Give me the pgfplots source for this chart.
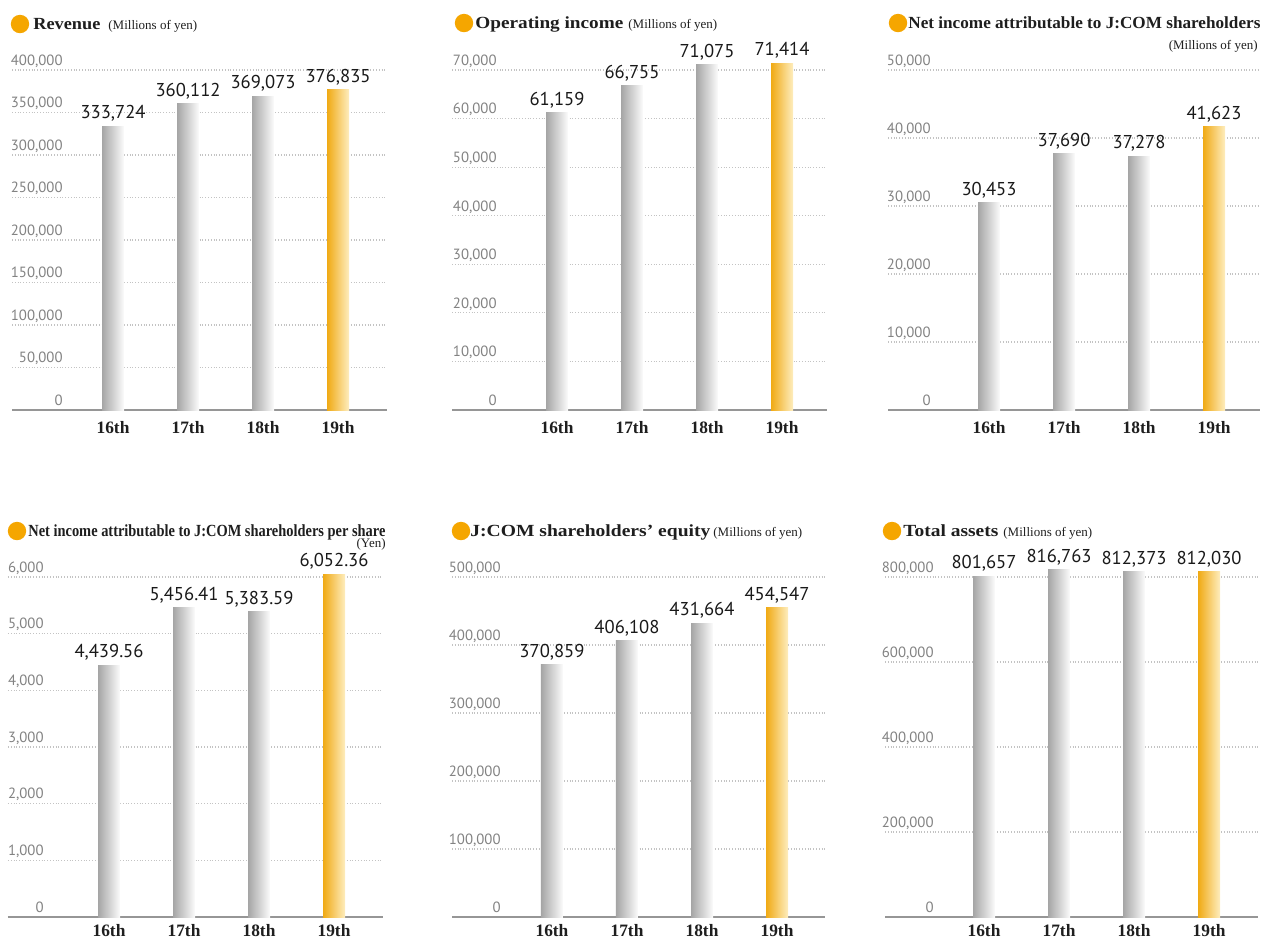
\documentclass[border=0pt]{standalone}
\usepackage{fontspec}
\setmainfont{Liberation Serif}
\newfontfamily\numfont{PT Sans}
\usepackage{graphicx}
\usepackage{pgfplots}
\pgfplotsset{compat=1.18}

\definecolor{bulletorange}{RGB}{245,166,0}
\definecolor{barL}{RGB}{165,165,165}
\definecolor{barM}{RGB}{228,228,228}
\definecolor{barR}{RGB}{252,252,252}
\definecolor{hiL}{RGB}{240,170,20}
\definecolor{hiM}{RGB}{249,206,105}
\definecolor{hiR}{RGB}{254,237,190}
\definecolor{ticktext}{RGB}{130,130,130}
\definecolor{gridgray}{RGB}{195,195,195}
\definecolor{basegray}{RGB}{150,150,150}
\definecolor{titletext}{RGB}{30,30,30}

\pgfplotsset{
  panel/.style={
    scale only axis,
    height=170pt,
    anchor=south west,
    ybar,
    ymin=0,
    axis lines=left,
    axis line style={-},
    y axis line style={draw=none},
    x axis line style={basegray, line width=0.9pt},
    major tick length=0pt,
    xtick={0,1,2,3},
    xticklabels={16th,17th,18th,19th},
    xticklabel style={font=\fontsize{8.7}{9}\selectfont\bfseries, text=titletext,
      anchor=north, inner sep=0pt, yshift=-5.5pt},
    scaled y ticks=false,
    /pgf/number format/fixed,
    /pgf/number format/precision=0,
    /pgf/number format/1000 sep={,},
    /pgf/number format/assume math mode=true,
    yticklabel={\pgfmathprintnumber[fixed,precision=0]{\tick}},
    yticklabel style={font=\numfont\fontsize{7.4}{8}\selectfont, text=ticktext,
      anchor=base east, inner sep=0pt, yshift=2.35pt},
    ymajorgrids,
    grid style={gridgray, densely dotted, line width=0.6pt},
    clip=false,
    bar width=11pt,
    nodes near coords={\pgfmathprintnumber[fixed,precision=0]{\pgfplotspointmeta}},
    every node near coord/.append style={font=\numfont\fontsize{9.3}{10}\selectfont,
      text=black!90, inner sep=0pt, yshift=2.2pt},
  },
  lowrow/.style={xticklabel style={yshift=2pt}},
  greybar/.style={bar shift=0pt, draw=none, left color=barL, middle color=barM, right color=barR},
  goldbar/.style={bar shift=0pt, draw=none, left color=hiL, middle color=hiM, right color=hiR},
}

\newcommand{\subunit}{\fontsize{6.5}{7}\selectfont}

\begin{document}
\begin{tikzpicture}
\path[use as bounding box] (0pt,0pt) rectangle (632pt,-469.5pt);

% Revenue
\begin{axis}[panel, at={(6pt,-205pt)}, width=187.5pt,
  xmin=-1.347, xmax=3.653, ymax=400000,
  ytick={0,50000,100000,150000,200000,250000,300000,350000,400000},
  yticklabel style={xshift=25.5pt}]
\addplot[greybar] coordinates {(0,333724)};
\addplot[greybar] coordinates {(1,360112)};
\addplot[greybar] coordinates {(2,369073)};
\addplot[goldbar] coordinates {(3,376835)};
\end{axis}

% Operating income
\begin{axis}[panel, at={(226pt,-205pt)}, width=187.5pt,
  xmin=-1.4, xmax=3.6, ymax=70000,
  ytick={0,10000,20000,30000,40000,50000,60000,70000},
  yticklabel style={xshift=22.5pt}]
\addplot[greybar] coordinates {(0,61159)};
\addplot[greybar] coordinates {(1,66755)};
\addplot[greybar] coordinates {(2,71075)};
\addplot[goldbar] coordinates {(3,71414)};
\end{axis}

% Net income attributable to J:COM shareholders
\begin{axis}[panel, at={(444pt,-205pt)}, width=186pt,
  xmin=-1.347, xmax=3.613, ymax=50000,
  ytick={0,10000,20000,30000,40000,50000},
  yticklabel style={xshift=21.5pt}]
\addplot[greybar] coordinates {(0,30453)};
\addplot[greybar] coordinates {(1,37690)};
\addplot[greybar] coordinates {(2,37278)};
\addplot[goldbar] coordinates {(3,41623)};
\end{axis}

% Net income per share
\begin{axis}[panel, lowrow, at={(4pt,-458.5pt)}, width=187.5pt,
  xmin=-1.347, xmax=3.653, ymax=6000,
  ytick={0,1000,2000,3000,4000,5000,6000},
  yticklabel style={xshift=18pt},
  nodes near coords={\pgfmathprintnumber[fixed,fixed zerofill,precision=2]{\pgfplotspointmeta}}]
\addplot[greybar] coordinates {(0,4439.56)};
\addplot[greybar] coordinates {(1,5456.41)};
\addplot[greybar] coordinates {(2,5383.59)};
\addplot[goldbar] coordinates {(3,6052.36)};
\end{axis}

% Shareholders' equity
\begin{axis}[panel, lowrow, at={(226pt,-458.5pt)}, width=186.5pt,
  xmin=-1.333, xmax=3.64, ymax=500000,
  ytick={0,100000,200000,300000,400000,500000},
  yticklabel style={xshift=24.5pt}]
\addplot[greybar] coordinates {(0,370859)};
\addplot[greybar] coordinates {(1,406108)};
\addplot[greybar] coordinates {(2,431664)};
\addplot[goldbar] coordinates {(3,454547)};
\end{axis}

% Total assets
\begin{axis}[panel, lowrow, at={(442.5pt,-458.5pt)}, width=186.5pt,
  xmin=-1.32, xmax=3.653, ymax=800000,
  ytick={0,200000,400000,600000,800000},
  yticklabel style={xshift=24.5pt}]
\addplot[greybar] coordinates {(0,801657)};
\addplot[greybar] coordinates {(1,816763)};
\addplot[greybar] coordinates {(2,812373)};
\addplot[goldbar] coordinates {(3,812030)};
\end{axis}

% Panel headings
\begin{scope}[every node/.style={inner sep=0pt, text=titletext, font=\fontsize{8.5}{9}\selectfont}]
\fill[bulletorange] (10pt,-12pt) circle (4.6pt);
\node[anchor=base west] at (16.5pt,-14.65pt)
  {\resizebox{33.5pt}{\height}{\bfseries Revenue}\hspace{4pt}{\subunit(Millions of yen)}};

\fill[bulletorange] (232pt,-11.5pt) circle (4.6pt);
\node[anchor=base west] at (237.5pt,-14.15pt)
  {\resizebox{74pt}{\height}{\bfseries Operating income}\hspace{2.5pt}{\subunit(Millions of yen)}};

\fill[bulletorange] (449pt,-11.5pt) circle (4.6pt);
\node[anchor=base west] at (454pt,-14.15pt)
  {\resizebox{176pt}{\height}{\bfseries Net income attributable to J:COM shareholders}};
\node[anchor=base east, font=\subunit] at (629pt,-24.5pt) {(Millions of yen)};

\fill[bulletorange] (8.5pt,-265.5pt) circle (4.6pt);
\node[anchor=base west] at (14pt,-268pt)
  {\resizebox{178.5pt}{\height}{\bfseries Net income attributable to J:COM shareholders per share}};
\node[anchor=base east, font=\subunit] at (193pt,-273.5pt) {(Yen)};

\fill[bulletorange] (230.5pt,-265.5pt) circle (4.6pt);
\node[anchor=base west] at (235pt,-268pt)
  {\resizebox{120pt}{\height}{\bfseries J:COM shareholders’ equity}\hspace{1.5pt}{\subunit(Millions of yen)}};

\fill[bulletorange] (446pt,-265.5pt) circle (4.6pt);
\node[anchor=base west] at (451.5pt,-268pt)
  {\resizebox{47.5pt}{\height}{\bfseries Total assets}\hspace{2.5pt}{\subunit(Millions of yen)}};
\end{scope}
\end{tikzpicture}
\end{document}
